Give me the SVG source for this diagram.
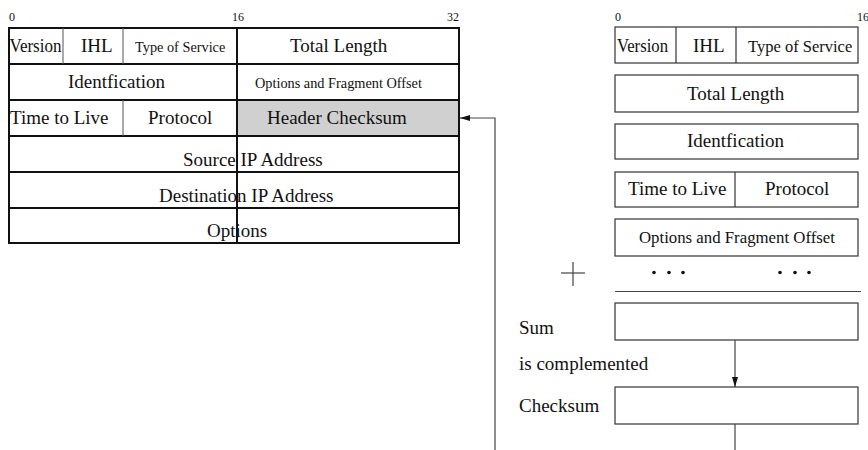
<svg xmlns="http://www.w3.org/2000/svg" width="868" height="450" viewBox="0 0 868 450">
<style>
text{font-family:"Liberation Serif","Times New Roman",serif;fill:#111}
.t{font-size:19px}
.s{font-size:14.3px}
.n{font-size:12px}
.outer{fill:none;stroke:#111;stroke-width:2}
.inner{stroke:#555;stroke-width:1;fill:none}
.box{fill:#fff;stroke:#333;stroke-width:1.2}
.conn{stroke:#444;stroke-width:1.2;fill:none}
</style>
<defs>
<marker id="ah" viewBox="0 0 10 6" refX="10" refY="3" markerWidth="10" markerHeight="6" markerUnits="userSpaceOnUse" orient="auto">
<path d="M0,0 L10,3 L0,6 z" fill="#111"/>
</marker>
</defs>
<rect width="868" height="450" fill="#fff"/>

<g id="left-table">
<text class="n" x="9" y="21">0</text>
<text class="n" x="232" y="21">16</text>
<text class="n" x="447" y="21">32</text>
<rect x="237" y="100" width="222" height="36" fill="#d0d0d0"/>
<rect class="outer" x="9" y="28" width="450" height="215"/>
<line class="outer" x1="9" y1="64" x2="459" y2="64"/>
<line class="outer" x1="9" y1="100" x2="459" y2="100"/>
<line class="outer" x1="9" y1="136" x2="459" y2="136"/>
<line class="outer" x1="9" y1="172" x2="459" y2="172"/>
<line class="outer" x1="9" y1="208" x2="459" y2="208"/>
<line class="outer" x1="237" y1="28" x2="237" y2="243"/>
<line class="inner" x1="63" y1="28" x2="63" y2="64"/>
<line class="inner" x1="123" y1="28" x2="123" y2="64"/>
<line class="inner" x1="123" y1="100" x2="123" y2="136"/>
<text class="t" x="9.5" y="52" textLength="52" lengthAdjust="spacingAndGlyphs">Version</text>
<text class="t" x="81" y="52">IHL</text>
<text class="s" x="135" y="52">Type of Service</text>
<text class="t" x="290" y="52">Total Length</text>
<text class="t" x="68" y="88">Identfication</text>
<text class="s" x="255" y="88">Options and Fragment Offset</text>
<text class="t" x="10" y="124">Time to Live</text>
<text class="t" x="148" y="124">Protocol</text>
<text class="t" x="267" y="124">Header Checksum</text>
<text class="t" x="183" y="166">Source IP Address</text>
<text class="t" x="159" y="202">Destination IP Address</text>
<text class="t" x="207" y="237">Options</text>
</g>

<g id="right-labels">
<text class="n" x="615" y="21">0</text>
<text class="n" x="857" y="21">16</text>
</g>

<g id="r-row1">
<rect class="box" x="615" y="27" width="243" height="36"/>
<line class="box" x1="676" y1="27" x2="676" y2="63"/>
<line class="box" x1="736" y1="27" x2="736" y2="63"/>
<text class="t" x="617" y="52" textLength="51" lengthAdjust="spacingAndGlyphs">Version</text>
<text class="t" x="693" y="52">IHL</text>
<text x="748" y="52" style="font-size:16.5px">Type of Service</text>
</g>

<g id="r-total-length">
<rect class="box" x="615" y="75" width="243" height="37"/>
<text class="t" x="687" y="100">Total Length</text>
</g>

<g id="r-identification">
<rect class="box" x="615" y="124" width="243" height="35"/>
<text class="t" x="687" y="147">Identfication</text>
</g>

<g id="r-ttl-protocol">
<rect class="box" x="615" y="172" width="243" height="35"/>
<line class="box" x1="735" y1="172" x2="735" y2="207"/>
<text class="t" x="628" y="195">Time to Live</text>
<text class="t" x="765" y="195">Protocol</text>
</g>

<g id="r-options">
<rect class="box" x="615" y="219" width="243" height="37"/>
<text x="639" y="243" style="font-size:16.8px">Options and Fragment Offset</text>
</g>

<g id="r-plus-dots">
<line class="conn" x1="561" y1="273" x2="585" y2="273"/>
<line class="conn" x1="573" y1="262" x2="573" y2="286"/>
<circle cx="654" cy="272.5" r="1.8" fill="#111"/>
<circle cx="669" cy="272.5" r="1.8" fill="#111"/>
<circle cx="683" cy="272.5" r="1.8" fill="#111"/>
<circle cx="780" cy="272.5" r="1.8" fill="#111"/>
<circle cx="795" cy="272.5" r="1.8" fill="#111"/>
<circle cx="809" cy="272.5" r="1.8" fill="#111"/>
<line class="conn" x1="615" y1="291.5" x2="861" y2="291.5"/>
</g>

<g id="r-sum">
<rect class="box" x="615" y="303" width="243" height="37"/>
<text class="t" x="519" y="334">Sum</text>
</g>

<g id="r-complemented">
<text class="t" x="519" y="370">is complemented</text>
</g>

<g id="r-checksum">
<rect class="box" x="615" y="387" width="243" height="37"/>
<text class="t" x="519" y="412">Checksum</text>
</g>

<g id="connectors">
<line class="conn" x1="735" y1="340" x2="735" y2="387" marker-end="url(#ah)"/>
<line class="conn" x1="735" y1="424" x2="735" y2="450"/>
<polyline class="conn" points="495,450 495,118 460,118" marker-end="url(#ah)"/>
</g>
</svg>
